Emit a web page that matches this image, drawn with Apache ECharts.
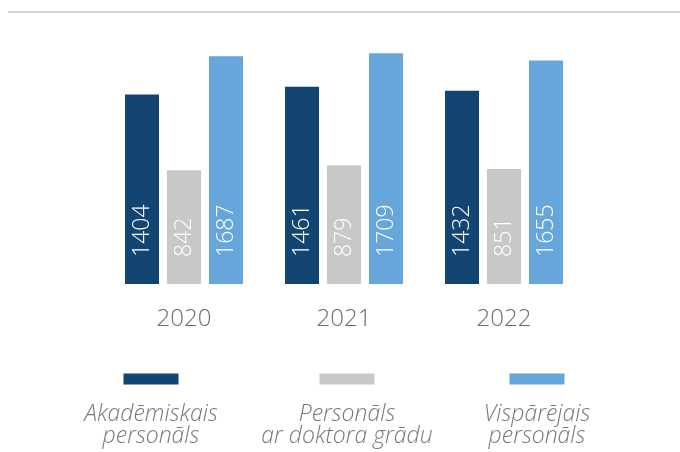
<!DOCTYPE html>
<html>
<head>
<meta charset="utf-8">
<script src="https://cdn.jsdelivr.net/npm/echarts@6/dist/echarts.min.js"></script>
<style>html,body{margin:0;padding:0;background:#fff}#c{width:680px;height:452px}</style>
</head>
<body>
<div id="c"></div>
<script>
const categories = ['2020', '2021', '2022'];
const seriesNames = ['Akadēmiskais personāls', 'Personāls ar doktora grādu', 'Vispārējais personāls'];
const legendLines = [['Akadēmiskais', 'personāls'], ['Personāls', 'ar doktora grādu'], ['Vispārējais', 'personāls']];
const academic = [1404, 1461, 1432];
const doctoral = [842, 879, 851];
const general = [1687, 1709, 1655];
const colors = ['#134572', '#c8c8c8', '#66a6db'];
const legendCenters = [151, 347, 537];

const FONT = "'Open Sans', 'Noto Sans', sans-serif";
const values = [academic, doctoral, general];

const chart = echarts.init(document.getElementById('c'), null, {renderer: 'canvas'});

const series = values.map((v, i) => ({
  name: seriesNames[i],
  type: 'bar',
  data: v,
  barWidth: 34,
  barGap: '23.5%',
  itemStyle: {color: colors[i]},
  label: {
    show: true,
    position: 'insideBottom',
    rotate: 90,
    align: 'left',
    verticalAlign: 'middle',
    distance: 27,
    color: '#ffffff',
    fontFamily: FONT,
    fontWeight: 300,
    fontSize: 23
  }
}));

const legends = seriesNames.map((n, i) => ({
  data: [n],
  left: legendCenters[i] - 105,
  top: 373,
  padding: 0,
  icon: 'none',
  itemWidth: 0,
  itemHeight: 0,
  selectedMode: false,
  formatter: () => '{box|}\n{sp| }\n{t|' + legendLines[i][0] + '}\n{t|' + legendLines[i][1] + '}',
  textStyle: {
    rich: {
      box: {width: 55, height: 11, lineHeight: 11, backgroundColor: colors[i], align: 'center'},
      sp: {fontSize: 1, lineHeight: 19, height: 19, align: 'center'},
      t: {width: 200, align: 'center', fontFamily: FONT, fontStyle: 'italic', fontWeight: 300,
          fontSize: 23, lineHeight: 22, color: '#787878'}
    }
  }
}));

chart.setOption({
  animation: false,
  backgroundColor: '#ffffff',
  grid: {left: 104, right: 96, top: 14, bottom: 168},
  legend: legends,
  xAxis: {
    type: 'category',
    data: categories,
    axisLine: {show: false},
    axisTick: {show: false},
    axisLabel: {color: '#6b6b6b', fontFamily: FONT, fontWeight: 300, fontSize: 24, lineHeight: 26, margin: 22}
  },
  yAxis: {type: 'value', min: 0, max: 2000, show: false, splitLine: {show: false}},
  graphic: [{
    type: 'line',
    shape: {x1: 8, y1: 12, x2: 680, y2: 12},
    style: {stroke: '#d5d5d5', lineWidth: 2}
  }],
  series: series
});
</script>
</body>
</html>
